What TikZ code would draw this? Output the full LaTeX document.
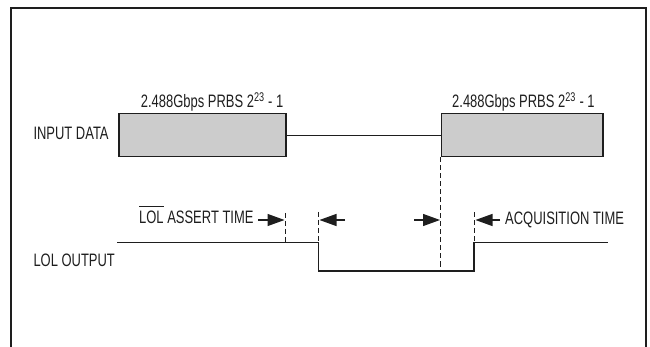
\documentclass[tikz,border=0pt]{standalone}
\usepackage{fontspec}
\setmainfont{Liberation Sans}[FakeStretch=0.72]
\usetikzlibrary{arrows.meta}
\definecolor{ink}{HTML}{1E1E1E}
\definecolor{boxfill}{HTML}{CCCCCC}
\newcommand\barredtext[1]{\setbox0\hbox{#1}\rlap{\rule[17.3pt]{\wd0}{1pt}}\box0\relax}
\tikzset{
  lbl/.style={font=\fontsize{18}{20}\selectfont, inner sep=0pt, text=ink},
  databox/.style={draw=ink, fill=boxfill, line width=1.5pt, inner sep=0pt, anchor=north west},
  wave/.style={draw=ink, line width=1.5pt},
  thin/.style={draw=ink, line width=1pt},
  guide/.style={draw=ink, line width=0.9pt, dash pattern=on 5pt off 3pt},
  timearrow/.style={draw=ink, line width=1.2pt, -{Triangle[length=17pt,width=12pt]}},
  frameline/.style={draw=ink, line width=2pt}
}
\begin{document}
\begin{tikzpicture}[x=1pt,y=-1pt]
\useasboundingbox (0,0) rectangle (650,347);
% frame (open at the bottom)
\draw[frameline] (10.7,348) -- (10.7,7.7) -- (645.7,7.7) -- (645.7,348);

% input data
\node[databox, minimum width=166.7pt, minimum height=43.3pt] (b1) at (118.3,112.7) {};
\node[databox, minimum width=161.6pt, minimum height=43.3pt] (b2) at (440.7,112.7) {};
\draw[thin] (b1.east) -- (b2.west);
\node[lbl, anchor=base west] (t1) at (140.7,108) {2.488Gbps PRBS 2\textsuperscript{23} - 1};
\node[lbl, anchor=base west] (t2) at (452,108) {2.488Gbps PRBS 2\textsuperscript{23} - 1};
\node[lbl, anchor=base west] (lin) at (33.3,139.2) {INPUT DATA};

% LOL output waveform
\coordinate (w0) at (117.3,242.5);
\coordinate (w1) at (318.5,242.5);
\coordinate (w2) at (318.5,271);
\coordinate (w3) at (474,271);
\coordinate (w4) at (474,242.5);
\coordinate (w5) at (608.3,242.5);
\draw[wave] (w0) -- (w1) -- (w2) -- (w3) -- (w4) -- (w5);
\node[lbl, anchor=base west] (lout) at (33.3,266) {LOL OUTPUT};

% guides
\coordinate (g1t) at (285,213);   \coordinate (g1b) at (285,242.5);
\coordinate (g2t) at (318.5,212); \coordinate (g2b) at (318.5,242.5);
\coordinate (g3b) at (440.7,271);
\coordinate (g4t) at (474,212.5); \coordinate (g4b) at (474,242.5);
\draw[guide] (g1t) -- (g1b);
\draw[guide] (g2t) -- (g2b);
\draw[guide] (b2.south west) -- (g3b);
\draw[guide] (g4t) -- (g4b);

% labels and arrows
\node[lbl, anchor=base west] (assert) at (139,224) {\barredtext{LOL} ASSERT TIME};
\node[lbl, anchor=base west] (acq) at (505,224.5) {ACQUISITION TIME};
\coordinate (a1s) at (258,220);   \coordinate (a1e) at (284.5,220);
\coordinate (a2s) at (345,220);   \coordinate (a2e) at (319.5,220);
\coordinate (a3s) at (414,220);   \coordinate (a3e) at (440,220);
\coordinate (a4s) at (500,220);   \coordinate (a4e) at (475.5,220);
\draw[timearrow] (a1s) -- (a1e);
\draw[timearrow] (a2s) -- (a2e);
\draw[timearrow] (a3s) -- (a3e);
\draw[timearrow] (a4s) -- (a4e);
\end{tikzpicture}
\end{document}
